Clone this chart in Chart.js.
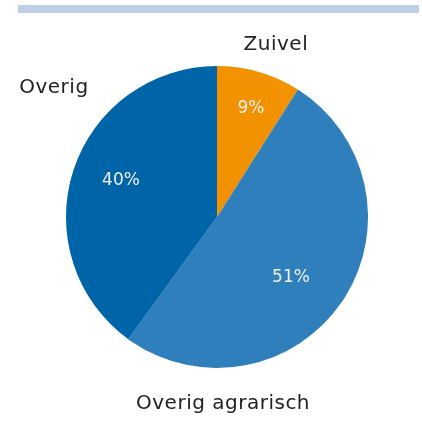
<!DOCTYPE html>
<html>
<head>
<meta charset="utf-8">
<script src="https://cdn.jsdelivr.net/npm/chart.js@4.4.1/dist/chart.umd.min.js"></script>
<style>
  html, body { margin: 0; padding: 0; background: #fff; }
  #wrap { position: relative; width: 422px; height: 443px; }
  #topbar { position: absolute; left: 18px; top: 5px; width: 401px; height: 8px; background: #bfcfe7; }
  canvas { position: absolute; left: 0; top: 0; }
</style>
</head>
<body>
<div id="wrap">
  <div id="topbar"></div>
  <canvas id="chart" width="422" height="443"></canvas>
</div>
<script>
// --- DATA ---
const categories = ['Zuivel', 'Overig agrarisch', 'Overig'];
const shares = [9, 51, 40];
const sliceColors = ['#f39200', '#2f7fbd', '#0064a9'];

// label placement (fractions of radius, relative to pie centre)
const innerLabelOffset = [[0.225, -0.72], [0.49, 0.40], [-0.636, -0.238]];
const outerLabelOffset = [[0.39, -1.14], [0.04, 1.24], [-1.08, -0.855]];

const FONT = '"DejaVu Sans", "Open Sans", sans-serif';

const labelPlugin = {
    id: 'sliceLabels',
    afterDatasetsDraw(chart) {
        const ctx = chart.ctx;
        const meta = chart.getDatasetMeta(0);
        ctx.save();
        ctx.textAlign = 'center';
        ctx.textBaseline = 'middle';
        meta.data.forEach((arc, i) => {
            const p = arc.getProps(['x', 'y', 'outerRadius'], true);
            const r = p.outerRadius;
            const inner = innerLabelOffset[i];
            ctx.fillStyle = '#f0f0f0';
            ctx.font = '17px ' + FONT;
            ctx.letterSpacing = '0px';
            ctx.fillText(shares[i] + '%', p.x + inner[0] * r, p.y + inner[1] * r);

            const off = outerLabelOffset[i];
            ctx.fillStyle = '#222';
            ctx.font = '20px ' + FONT;
            ctx.letterSpacing = '0.5px';
            ctx.fillText(categories[i], p.x + off[0] * r, p.y + off[1] * r);
        });
        ctx.restore();
    }
};

new Chart(document.getElementById('chart'), {
    type: 'pie',
    data: {
        labels: categories,
        datasets: [{
            data: shares,
            backgroundColor: sliceColors,
            borderWidth: 0
        }]
    },
    options: {
        responsive: false,
        animation: false,
        layout: { padding: { left: 66, top: 66, right: 54, bottom: 75 } },
        plugins: {
            legend: { display: false },
            tooltip: { enabled: false }
        }
    },
    plugins: [labelPlugin]
});
</script>
</body>
</html>
